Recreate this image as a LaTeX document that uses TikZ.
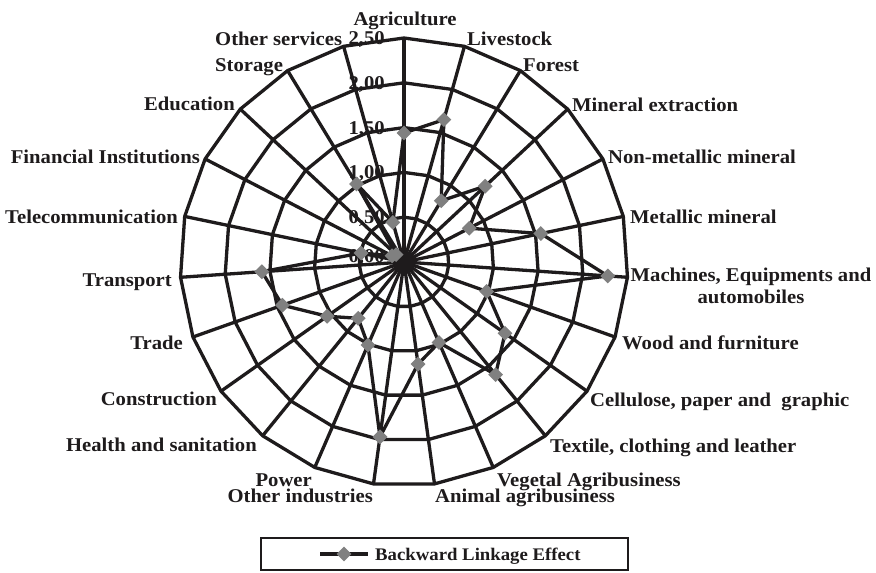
\documentclass[tikz,border=0pt]{standalone}
\usepackage{fontspec}
\setmainfont{Liberation Serif}[FakeStretch=1.06]
\usetikzlibrary{shapes.geometric}
\definecolor{mgray}{RGB}{128,128,128}
\definecolor{ink}{RGB}{30,27,28}
\begin{document}
\begin{tikzpicture}[x=1pt,y=-1pt,
 grid/.style={line width=3.3pt, draw=ink},
 dataline/.style={line width=3.3pt, draw=ink, line join=round},
 marker/.style={diamond, fill=mgray, draw=none, minimum size=15pt, inner sep=0pt},
 lab/.style={font=\fontsize{19.5}{22}\selectfont\bfseries, inner sep=0pt, text=ink},
 ticklab/.style={font=\fontsize{19.5}{22}\selectfont\bfseries, inner sep=0pt, anchor=base east, text=ink},
]
\useasboundingbox (0,0) rectangle (876,573);
\fill[white] (0,0) rectangle (876,573);
% tick labels
\node[ticklab] (t0) at (385,262) {0,00};
\node[ticklab] (t1) at (385,223.7) {0,50};
\node[ticklab] (t2) at (385,178.9) {1,00};
\node[ticklab] (t3) at (385,134.1) {1,50};
\node[ticklab] (t4) at (385,89.3) {2,00};
\node[ticklab] (t5) at (385,44.5) {2,50};
\begin{scope}[shift={(404,262)}]
 \coordinate (O) at (0,0);
 \foreach \k in {1,...,5}
  \draw[grid] (-90:\k*44.8) \foreach \i in {1,...,22}{ -- (-90+\i*360/23:\k*44.8)} -- cycle;
 \foreach \i in {0,...,22}
  \draw[grid] (O) -- (-90+\i*360/23:224);
 \foreach \v [count=\i from 0] in {1.44,1.65,0.80,1.24,0.82,1.56,2.28,0.98,1.38,1.62,0.98,1.15,1.97,1.01,0.81,1.05,1.44,1.59,0.49,0.15,0.12,1.02,0.46}
  \coordinate (p\i) at (-90+\i*360/23:\v*89.6);
\end{scope}
\draw[dataline] (p0) \foreach \i in {1,...,22}{ -- (p\i)} -- cycle;
\foreach \i in {0,...,22} \node[marker] (m\i) at (p\i) {};
% category labels
\node[lab, anchor=base] (l0) at (405,25) {Agriculture};
\node[lab, anchor=base west] (l1) at (467,45) {Livestock};
\node[lab, anchor=base west] (l2) at (523,71) {Forest};
\node[lab, anchor=base west] (l3) at (572,111) {Mineral extraction};
\node[lab, anchor=base west] (l4) at (608,163) {Non-metallic mineral};
\node[lab, anchor=base west] (l5) at (630,223) {Metallic mineral};
\node[lab, anchor=base] (l6a) at (751,281) {Machines, Equipments and};
\node[lab, anchor=base] (l6b) at (751,303) {automobiles};
\node[lab, anchor=base west] (l7) at (622,349) {Wood and furniture};
\node[lab, anchor=base west] (l8) at (590,406) {Cellulose, paper and\ \ graphic};
\node[lab, anchor=base west] (l9) at (550,452) {Textile, clothing and leather};
\node[lab, anchor=base west] (l10) at (497,486) {Vegetal Agribusiness};
\node[lab, anchor=base west] (l11) at (435,502) {Animal agribusiness};
\node[lab, anchor=base east] (l12) at (373,502) {Other industries};
\node[lab, anchor=base east] (l13) at (312,486) {Power};
\node[lab, anchor=base east] (l14) at (257,451) {Health and sanitation};
\node[lab, anchor=base east] (l15) at (217,405) {Construction};
\node[lab, anchor=base east] (l16) at (183,349) {Trade};
\node[lab, anchor=base east] (l17) at (172,286) {Transport};
\node[lab, anchor=base east] (l18) at (178,223) {Telecommunication};
\node[lab, anchor=base east] (l19) at (200,163) {Financial Institutions};
\node[lab, anchor=base east] (l20) at (235,110) {Education};
\node[lab, anchor=base west] (l21) at (215,71) {Storage};
\node[lab, anchor=base west] (l22) at (215,45) {Other services};
% legend
\draw[line width=2.2pt, draw=ink] (261,538) rectangle (628,570);
\coordinate (la) at (320,554);
\coordinate (lb) at (368,554);
\draw[dataline] (la) -- (lb);
\node[marker] (lm) at (344,554) {};
\node[font=\fontsize{17.7}{20}\selectfont\bfseries, inner sep=0pt, anchor=base west, text=ink] (lt) at (375,560) {Backward Linkage Effect};
\end{tikzpicture}
\end{document}
